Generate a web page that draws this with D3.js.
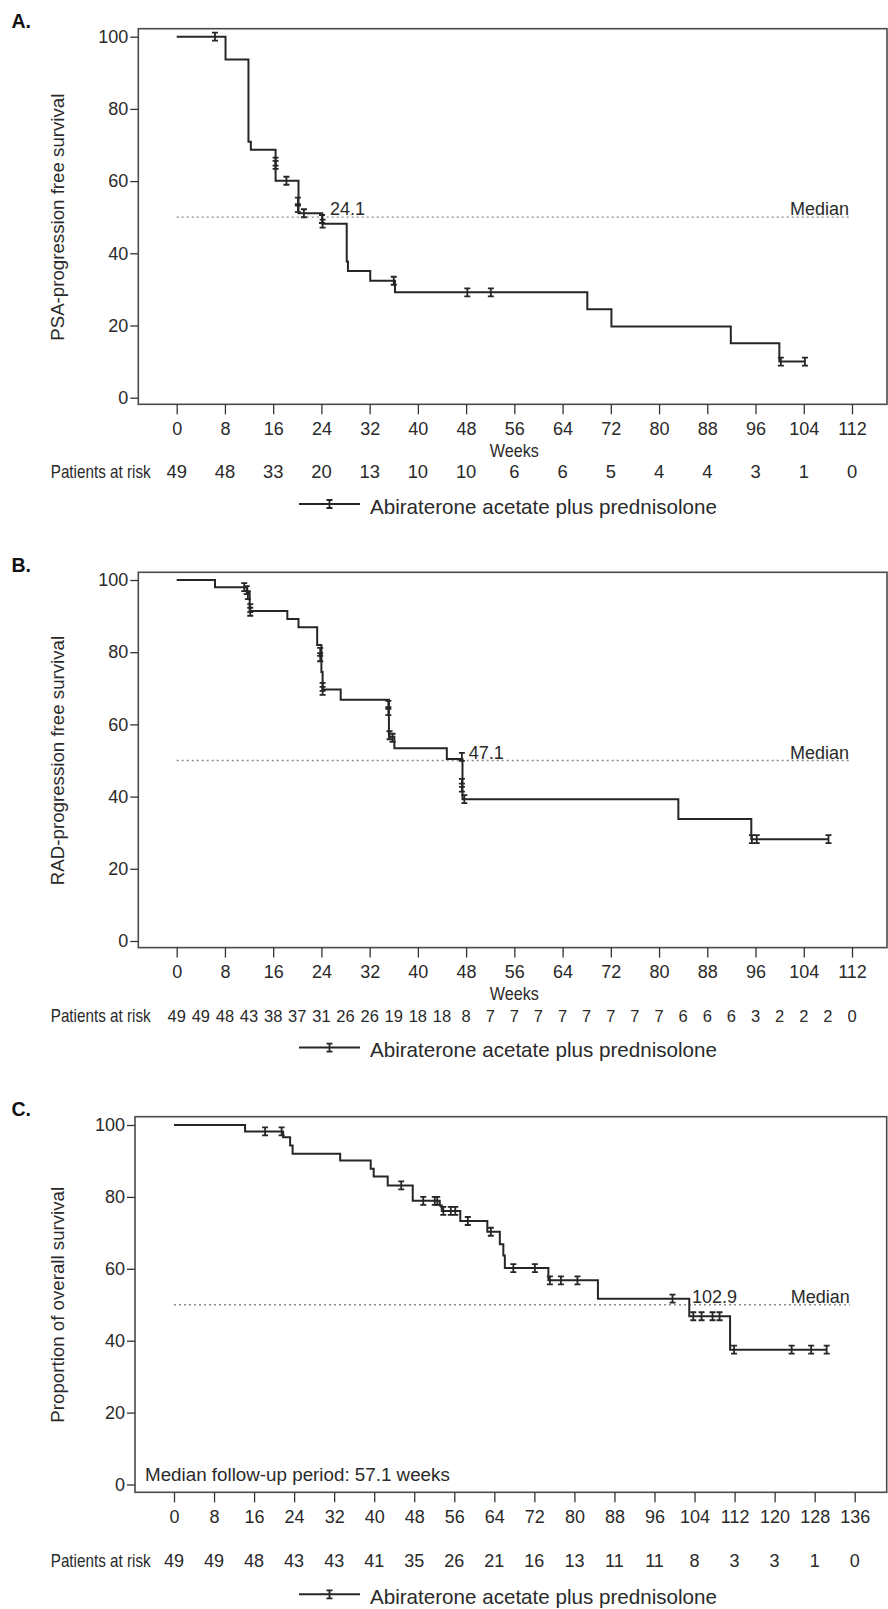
<!DOCTYPE html>
<html>
<head>
<meta charset="utf-8">
<script src="https://cdn.jsdelivr.net/npm/d3@7"></script>
<style>
body {margin:0; background:#fff;}
svg text {font-family:"Liberation Sans", Arial, sans-serif; fill:#2a2a2a;}
</style>
</head>
<body>
<svg id="chart" width="888" height="1609"></svg>
<script>
// ---- data ----
var yTicks = [0, 20, 40, 60, 80, 100];
var weekTicksAB = [0, 8, 16, 24, 32, 40, 48, 56, 64, 72, 80, 88, 96, 104, 112];
var weekTicksC = [0, 8, 16, 24, 32, 40, 48, 56, 64, 72, 80, 88, 96, 104, 112, 120, 128, 136];

// A. PSA-progression free survival
var aStepTimes = [0, 8.1, 11.9, 12.3, 16.4, 20.2, 24.15, 28.2, 28.4, 32.1, 36.2, 68.1, 72.1, 91.9, 99.95, 104.2];
var aStepSurv  = [100, 93.7, 70.9, 68.7, 60.1, 51.1, 48.2, 37.7, 35.1, 32.4, 29.2, 24.5, 19.7, 15.1, 10.0, 10.0];
var aCensTimes = [6.35, 16.4, 16.4, 18.2, 20.1, 20.1, 21.1, 24.1, 24.2, 36.0, 48.2, 52.1, 100.2, 104.2];
var aCensSurv  = [100, 65.4, 64.5, 60.1, 54.3, 52.5, 51.1, 49.5, 48.2, 32.4, 29.2, 29.2, 10.0, 10.0];
var aRiskWeeks = [0, 8, 16, 24, 32, 40, 48, 56, 64, 72, 80, 88, 96, 104, 112];
var aRisk      = [49, 48, 33, 20, 13, 10, 10, 6, 6, 5, 4, 4, 3, 1, 0];
var aMedian = 24.1;

// B. RAD-progression free survival
var bStepTimes = [0, 6.35, 11.7, 12.1, 18.35, 20.2, 23.3, 24.0, 24.2, 27.2, 35.2, 36.1, 44.8, 47.4, 83.2, 95.3, 108.1];
var bStepSurv  = [100, 98.0, 96.5, 91.4, 89.2, 86.9, 82.0, 74.5, 69.7, 66.8, 56.6, 53.4, 50.4, 39.3, 33.8, 28.2, 28.2];
var bCensTimes = [11.2, 11.6, 11.8, 12.2, 12.2, 23.8, 23.8, 24.2, 24.2, 35.1, 35.1, 35.3, 35.8, 47.3, 47.3, 47.3, 47.7, 95.4, 96.2, 108.1];
var bCensSurv  = [98.0, 97.2, 95.8, 92.2, 91.2, 80.1, 78.6, 70.4, 69.3, 65.4, 63.7, 57.0, 56.3, 51.0, 43.8, 42.5, 39.3, 28.2, 28.2, 28.2];
var bRiskWeeks = [0, 4, 8, 12, 16, 20, 24, 28, 32, 36, 40, 44, 48, 52, 56, 60, 64, 68, 72, 76, 80, 84, 88, 92, 96, 100, 104, 108, 112];
var bRisk      = [49, 49, 48, 43, 38, 37, 31, 26, 26, 19, 18, 18, 8, 7, 7, 7, 7, 7, 7, 7, 7, 6, 6, 6, 3, 2, 2, 2, 0];
var bMedian = 47.1;

// C. Overall survival
var cStepTimes = [0, 14.2, 21.8, 23.2, 23.7, 33.2, 39.3, 39.9, 42.7, 47.7, 53.1, 53.5, 57.2, 62.6, 65.1, 65.8, 66.1, 74.8, 84.7, 102.95, 111.1, 130.4];
var cStepSurv  = [100, 98.2, 96.6, 94.3, 92.0, 90.1, 87.8, 85.7, 83.2, 78.9, 77.6, 76.1, 73.3, 70.3, 66.8, 63.7, 60.2, 56.8, 51.7, 46.8, 37.5, 37.5];
var cCensTimes = [18.2, 21.5, 45.4, 49.8, 52.1, 52.6, 53.8, 55.3, 56.2, 58.7, 63.3, 67.8, 72.1, 75.1, 77.3, 80.6, 99.6, 103.75, 105.4, 107.6, 109.0, 111.9, 123.4, 127.3, 130.4];
var cCensSurv  = [98.2, 98.2, 83.2, 78.9, 78.9, 78.9, 76.1, 76.1, 76.1, 73.3, 70.3, 60.2, 60.2, 56.8, 56.8, 56.8, 51.7, 46.8, 46.8, 46.8, 46.8, 37.5, 37.5, 37.5, 37.5];
var cRiskWeeks = [0, 8, 16, 24, 32, 40, 48, 56, 64, 72, 80, 88, 96, 104, 112, 120, 128, 136];
var cRisk      = [49, 49, 48, 43, 43, 41, 35, 26, 21, 16, 13, 11, 11, 8, 3, 3, 1, 0];
var cMedian = 102.9;

var legendText = "Abiraterone acetate plus prednisolone";
var ink = "#262626";

// ---- layout of the three panels ----
var panels = [
    {letter:"A.", letterY:28.3, title:"PSA-progression free survival",
     times:aStepTimes, surv:aStepSurv, censT:aCensTimes, censS:aCensSurv,
     riskW:aRiskWeeks, risk:aRisk, riskFont:18.4, median:aMedian, medDx:8,
     ticks:weekTicksAB, xMax:112, medEnd:111.5,
     x0:176.7, x1:852, y0:397.7, y100:36.7, box:[138.3, 28.7, 887, 404.3],
     weeksY:457, riskY:478.4, legendY:504},
    {letter:"B.", letterY:572.3, title:"RAD-progression free survival",
     times:bStepTimes, surv:bStepSurv, censT:bCensTimes, censS:bCensSurv,
     riskW:bRiskWeeks, risk:bRisk, riskFont:16.5, median:bMedian, medDx:8,
     ticks:weekTicksAB, xMax:112, medEnd:111.5,
     x0:176.7, x1:852, y0:941, y100:580, box:[138.3, 572.3, 887, 947.6],
     weeksY:1000.3, riskY:1021.9, legendY:1047.6},
    {letter:"C.", letterY:1116, title:"Proportion of overall survival",
     times:cStepTimes, surv:cStepSurv, censT:cCensTimes, censS:cCensSurv,
     riskW:cRiskWeeks, risk:cRisk, riskFont:18, median:cMedian, medDx:3,
     ticks:weekTicksC, xMax:136, medEnd:135,
     x0:174, x1:854.7, y0:1484.5, y100:1125, box:[135, 1116.7, 886.7, 1492.3],
     weeksY:null, riskY:1566.7, legendY:1594.3,
     note:"Median follow-up period: 57.1 weeks"}
];

var svg = d3.select("#chart");
panels.forEach(function(p) { drawPanel(svg, p); });

function censorPath(x, y) {
    return "M" + (x - 3) + "," + (y - 4) + "h6M" + x + "," + (y - 4) + "v8M" + (x - 3) + "," + (y + 4) + "h6";
}

function drawPanel(svg, p) {
    var g = svg.append("g");
    var xScale = d3.scaleLinear().domain([0, p.xMax]).range([p.x0, p.x1]);
    var yScale = d3.scaleLinear().domain([0, 100]).range([p.y0, p.y100]);
    var box = p.box;

    // frame
    g.append("rect")
        .attr("x", box[0]).attr("y", box[1])
        .attr("width", box[2] - box[0]).attr("height", box[3] - box[1])
        .attr("fill", "none").attr("stroke", "#4a4a4a").attr("stroke-width", 1.6);

    // axes
    var yAxis = g.append("g")
        .attr("transform", "translate(" + box[0] + ",0)")
        .call(d3.axisLeft(yScale).tickValues(yTicks).tickSize(8).tickPadding(2));
    yAxis.select(".domain").remove();
    yAxis.attr("font-size", 18).style("color", "#333");
    yAxis.selectAll("line").attr("stroke-width", 1.3);

    var xAxis = g.append("g")
        .attr("transform", "translate(0," + box[3] + ")")
        .call(d3.axisBottom(xScale).tickValues(p.ticks).tickSize(10).tickPadding(8));
    xAxis.select(".domain").remove();
    xAxis.attr("font-size", 18).style("color", "#333");
    xAxis.selectAll("line").attr("stroke-width", 1.3);

    // median reference
    var yMed = yScale(50);
    g.append("line")
        .attr("x1", xScale(0)).attr("x2", xScale(p.medEnd))
        .attr("y1", yMed).attr("y2", yMed)
        .attr("stroke", "#8a8a8a").attr("stroke-width", 1.3)
        .attr("stroke-dasharray", "2,3");
    g.append("text")
        .attr("x", xScale(p.medEnd)).attr("y", yMed - 2)
        .attr("text-anchor", "end").attr("font-size", 18)
        .text("Median");
    g.append("text")
        .attr("x", xScale(p.median) + p.medDx).attr("y", yMed - 2)
        .attr("font-size", 18)
        .text(p.median.toFixed(1));

    // survival curve
    var pts = p.times.map(function(t, i) { return [t, p.surv[i]]; });
    var line = d3.line()
        .x(function(d) { return xScale(d[0]); })
        .y(function(d) { return yScale(d[1]); })
        .curve(d3.curveStepAfter);
    g.append("path")
        .attr("d", line(pts))
        .attr("fill", "none").attr("stroke", ink).attr("stroke-width", 2);

    // censor marks
    var cens = p.censT.map(function(t, i) { return [t, p.censS[i]]; });
    g.selectAll("path.cens").data(cens).enter()
        .append("path")
        .attr("class", "cens")
        .attr("d", function(d) { return censorPath(xScale(d[0]), yScale(d[1])); })
        .attr("fill", "none").attr("stroke", ink).attr("stroke-width", 1.8);

    // titles
    g.append("text")
        .attr("transform", "translate(64," + yScale(50) + ") rotate(-90)")
        .attr("text-anchor", "middle").attr("font-size", 18.7)
        .text(p.title);
    g.append("text")
        .attr("x", 11.5).attr("y", p.letterY)
        .attr("font-size", 19.5).attr("font-weight", "bold")
        .style("fill", "#111")
        .text(p.letter);

    if (p.weeksY) {
        g.append("text")
            .attr("transform", "translate(" + xScale(56) + "," + p.weeksY + ") scale(0.85,1)")
            .attr("text-anchor", "middle").attr("font-size", 19)
            .text("Weeks");
    }
    if (p.note) {
        g.append("text")
            .attr("x", 145).attr("y", 1481)
            .attr("font-size", 18.8)
            .text(p.note);
    }

    // numbers at risk
    g.append("text")
        .attr("transform", "translate(150.7," + p.riskY + ") scale(0.82,1)")
        .attr("text-anchor", "end").attr("font-size", 18.6)
        .text("Patients at risk");
    var riskPts = p.riskW.map(function(w, i) { return {w:w, n:p.risk[i]}; });
    g.selectAll("text.risk").data(riskPts).enter()
        .append("text")
        .attr("class", "risk")
        .attr("x", function(d) { return xScale(d.w); })
        .attr("y", p.riskY)
        .attr("text-anchor", "middle").attr("font-size", p.riskFont)
        .text(function(d) { return d.n; });

    // legend
    var ly = p.legendY;
    g.append("line")
        .attr("x1", 299).attr("x2", 360).attr("y1", ly).attr("y2", ly)
        .attr("stroke", ink).attr("stroke-width", 2);
    g.append("path")
        .attr("d", censorPath(329.5, ly))
        .attr("fill", "none").attr("stroke", ink).attr("stroke-width", 1.8);
    g.append("text")
        .attr("x", 370).attr("y", ly + 9.5)
        .attr("font-size", 20.6)
        .text(legendText);
}
</script>
</body>
</html>
